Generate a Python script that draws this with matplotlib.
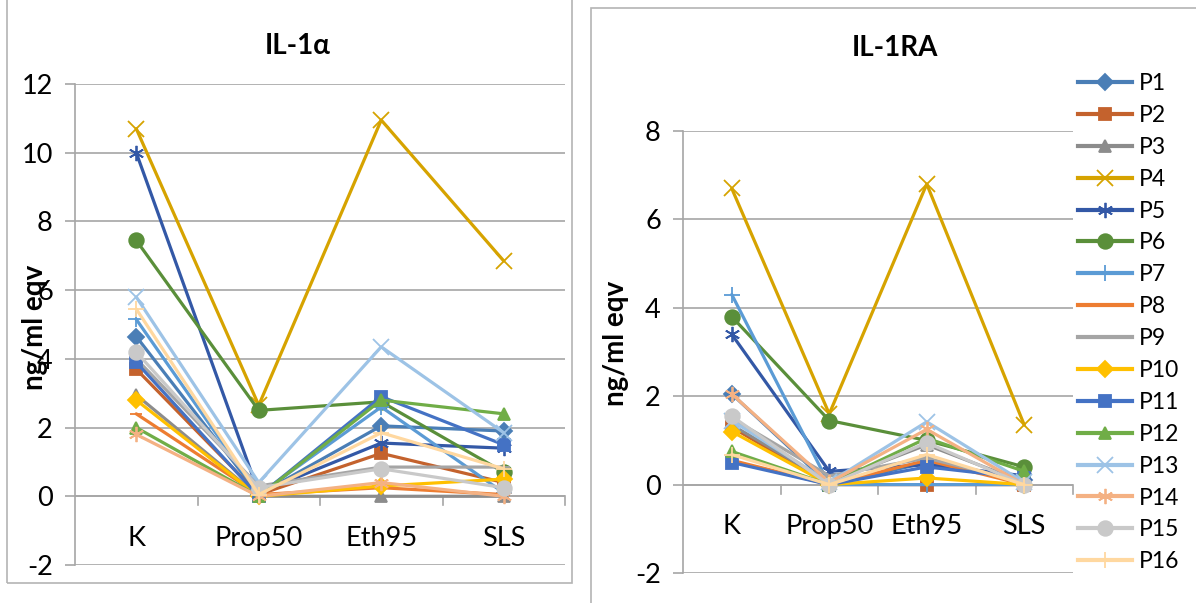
import matplotlib
matplotlib.use("Agg")
import matplotlib.pyplot as plt
from matplotlib.patches import Rectangle
from matplotlib.lines import Line2D

plt.rcParams['font.family'] = ['Lato', 'DejaVu Sans']
plt.rcParams['axes.unicode_minus'] = False

W, H = 1196, 603

# Donnees
categories = ["K", "Prop50", "Eth95", "SLS"]
patients = ["P%d" % i for i in range(1, 17)]

# IL-1alpha : K, Prop50, Eth95, SLS
il1a = [
    [4.65, 0.05, 2.05, 1.9],
    [3.7, 0.05, 1.25, 0.4],
    [2.95, 0.0, 0.0, 0.0],
    [10.7, 2.65, 10.95, 6.85],
    [10.0, 0.1, 1.55, 1.4],
    [7.45, 2.5, 2.75, 0.7],
    [5.15, 0.05, 2.6, 0.1],
    [2.4, 0.05, 0.25, 0.05],
    [4.0, 0.3, 0.85, 0.85],
    [2.8, 0.0, 0.3, 0.5],
    [3.9, 0.0, 2.9, 1.5],
    [2.0, 0.0, 2.8, 2.4],
    [5.8, 0.4, 4.35, 1.85],
    [1.8, 0.0, 0.4, 0.0],
    [4.2, 0.25, 0.8, 0.25],
    [5.45, 0.05, 1.85, 0.8],
]

# IL-1RA : K, Prop50, Eth95, SLS
il1ra = [
    [2.05, 0.0, 0.5, 0.1],
    [1.3, 0.0, 0.0, 0.0],
    [1.35, 0.05, 0.9, 0.05],
    [6.7, 1.6, 6.8, 1.35],
    [3.4, 0.3, 0.45, 0.2],
    [3.8, 1.45, 1.0, 0.4],
    [4.3, 0.0, 0.0, 0.0],
    [0.55, 0.0, 0.55, 0.0],
    [1.5, 0.2, 0.6, 0.05],
    [1.2, 0.0, 0.15, 0.0],
    [0.5, 0.0, 0.4, 0.15],
    [0.75, 0.0, 1.05, 0.3],
    [1.45, 0.05, 1.42, 0.05],
    [2.05, 0.05, 1.25, 0.0],
    [1.55, 0.0, 0.95, 0.0],
    [0.68, 0.0, 0.68, 0.0],
]

colors = ["#4A7EB6", "#C4622D", "#8C8C8C", "#D6A300", "#3358A6", "#5A8F3A",
          "#5B9BD5", "#ED7D31", "#A5A5A5", "#FFC000", "#4472C4", "#70AD47",
          "#9DC3E6", "#F4B183", "#C9C9C9", "#FFD8A0"]
asterisk = (6, 2, 0)
markers = ["D", "s", "^", "x", asterisk, "o", "+", "_",
           "_", "D", "s", "^", "x", asterisk, "o", "+"]
msizes = [8, 9, 9, 11, 11, 10.5, 12, 9, 9, 8, 9, 9, 11, 11, 10.5, 12]

GRID = "#A6A6A6"
FS = 19.5


def fx(px):
    return px / W


def fy(py):
    return 1 - py / H


def draw_panel(x0, x1, ytop, ybot, ymin, ymax, data, title, title_xy, ylab_xy):
    ax = fig.add_axes([fx(x0), fy(ybot), fx(x1 - x0), fy(ytop) - fy(ybot)])
    xs = range(len(categories))
    for i, vals in enumerate(data):
        ax.plot(xs, vals, color=colors[i], lw=2.3, marker=markers[i],
                markersize=msizes[i], markeredgewidth=1.3, label=patients[i],
                solid_capstyle="round", solid_joinstyle="round")
    ax.set_xlim(-0.5, len(categories) - 0.5)
    ax.set_ylim(ymin, ymax)
    ax.set_yticks(range(ymin, ymax + 1, 2))
    ax.yaxis.grid(True, color=GRID, lw=1.2)
    ax.set_axisbelow(True)
    for s in ["top", "right", "bottom"]:
        ax.spines[s].set_visible(False)
    ax.spines["left"].set_color(GRID)
    ax.spines["left"].set_linewidth(1.2)
    ax.tick_params(axis="y", length=7, color=GRID, width=1.2, labelsize=FS, pad=9)
    ax.set_xticks([])
    # axe des categories a zero
    ax.axhline(0, color=GRID, lw=1.2, zorder=1)
    pxu = (ybot - ytop) / (ymax - ymin)
    for b in [0.5, 1.5, 2.5, 3.5]:
        ax.plot([b, b], [0, -9 / pxu], color=GRID, lw=1.2, clip_on=False, zorder=1)
    for i, c in enumerate(categories):
        ax.annotate(c, (i, 0), xytext=(0, -42), textcoords="offset pixels",
                    ha="center", va="center", fontsize=FS)
    fig.text(fx(title_xy[0]), fy(title_xy[1]), title, ha="center", va="center",
             fontsize=20, fontweight="bold")
    fig.text(fx(ylab_xy[0]), fy(ylab_xy[1]), "ng/ml eqv", ha="center", va="center",
             rotation=90, fontsize=20, fontweight="bold")
    return ax


fig = plt.figure(figsize=(W / 100, H / 100), dpi=100)

# cadres des deux graphiques
fig.patches.append(Rectangle((fx(7), fy(583)), fx(565), fy(-10) - fy(583),
                             transform=fig.transFigure, fill=False,
                             edgecolor="#B4B4B4", lw=1.2))
fig.patches.append(Rectangle((fx(591), fy(620)), fx(700), fy(8) - fy(620),
                             transform=fig.transFigure, fill=False,
                             edgecolor="#B4B4B4", lw=1.2))

ax1 = draw_panel(75, 565, 84, 565, -2, 12, il1a, "IL-1α", (298, 46), (35, 327))
ax2 = draw_panel(683, 1073, 131, 573, -2, 8, il1ra, "IL-1RA", (895, 48), (616, 343))

handles = [Line2D([], [], color=colors[i], lw=3, marker=markers[i],
                  markersize=msizes[i], markeredgewidth=1.3) for i in range(16)]
fig.legend(handles, patients, loc="upper left", bbox_to_anchor=(fx(1078), fy(73)),
           frameon=False, fontsize=16.5, handlelength=2.35, handletextpad=0.3,
           labelspacing=0.475, borderaxespad=0, borderpad=0)

fig.savefig("out.png", dpi=100)
